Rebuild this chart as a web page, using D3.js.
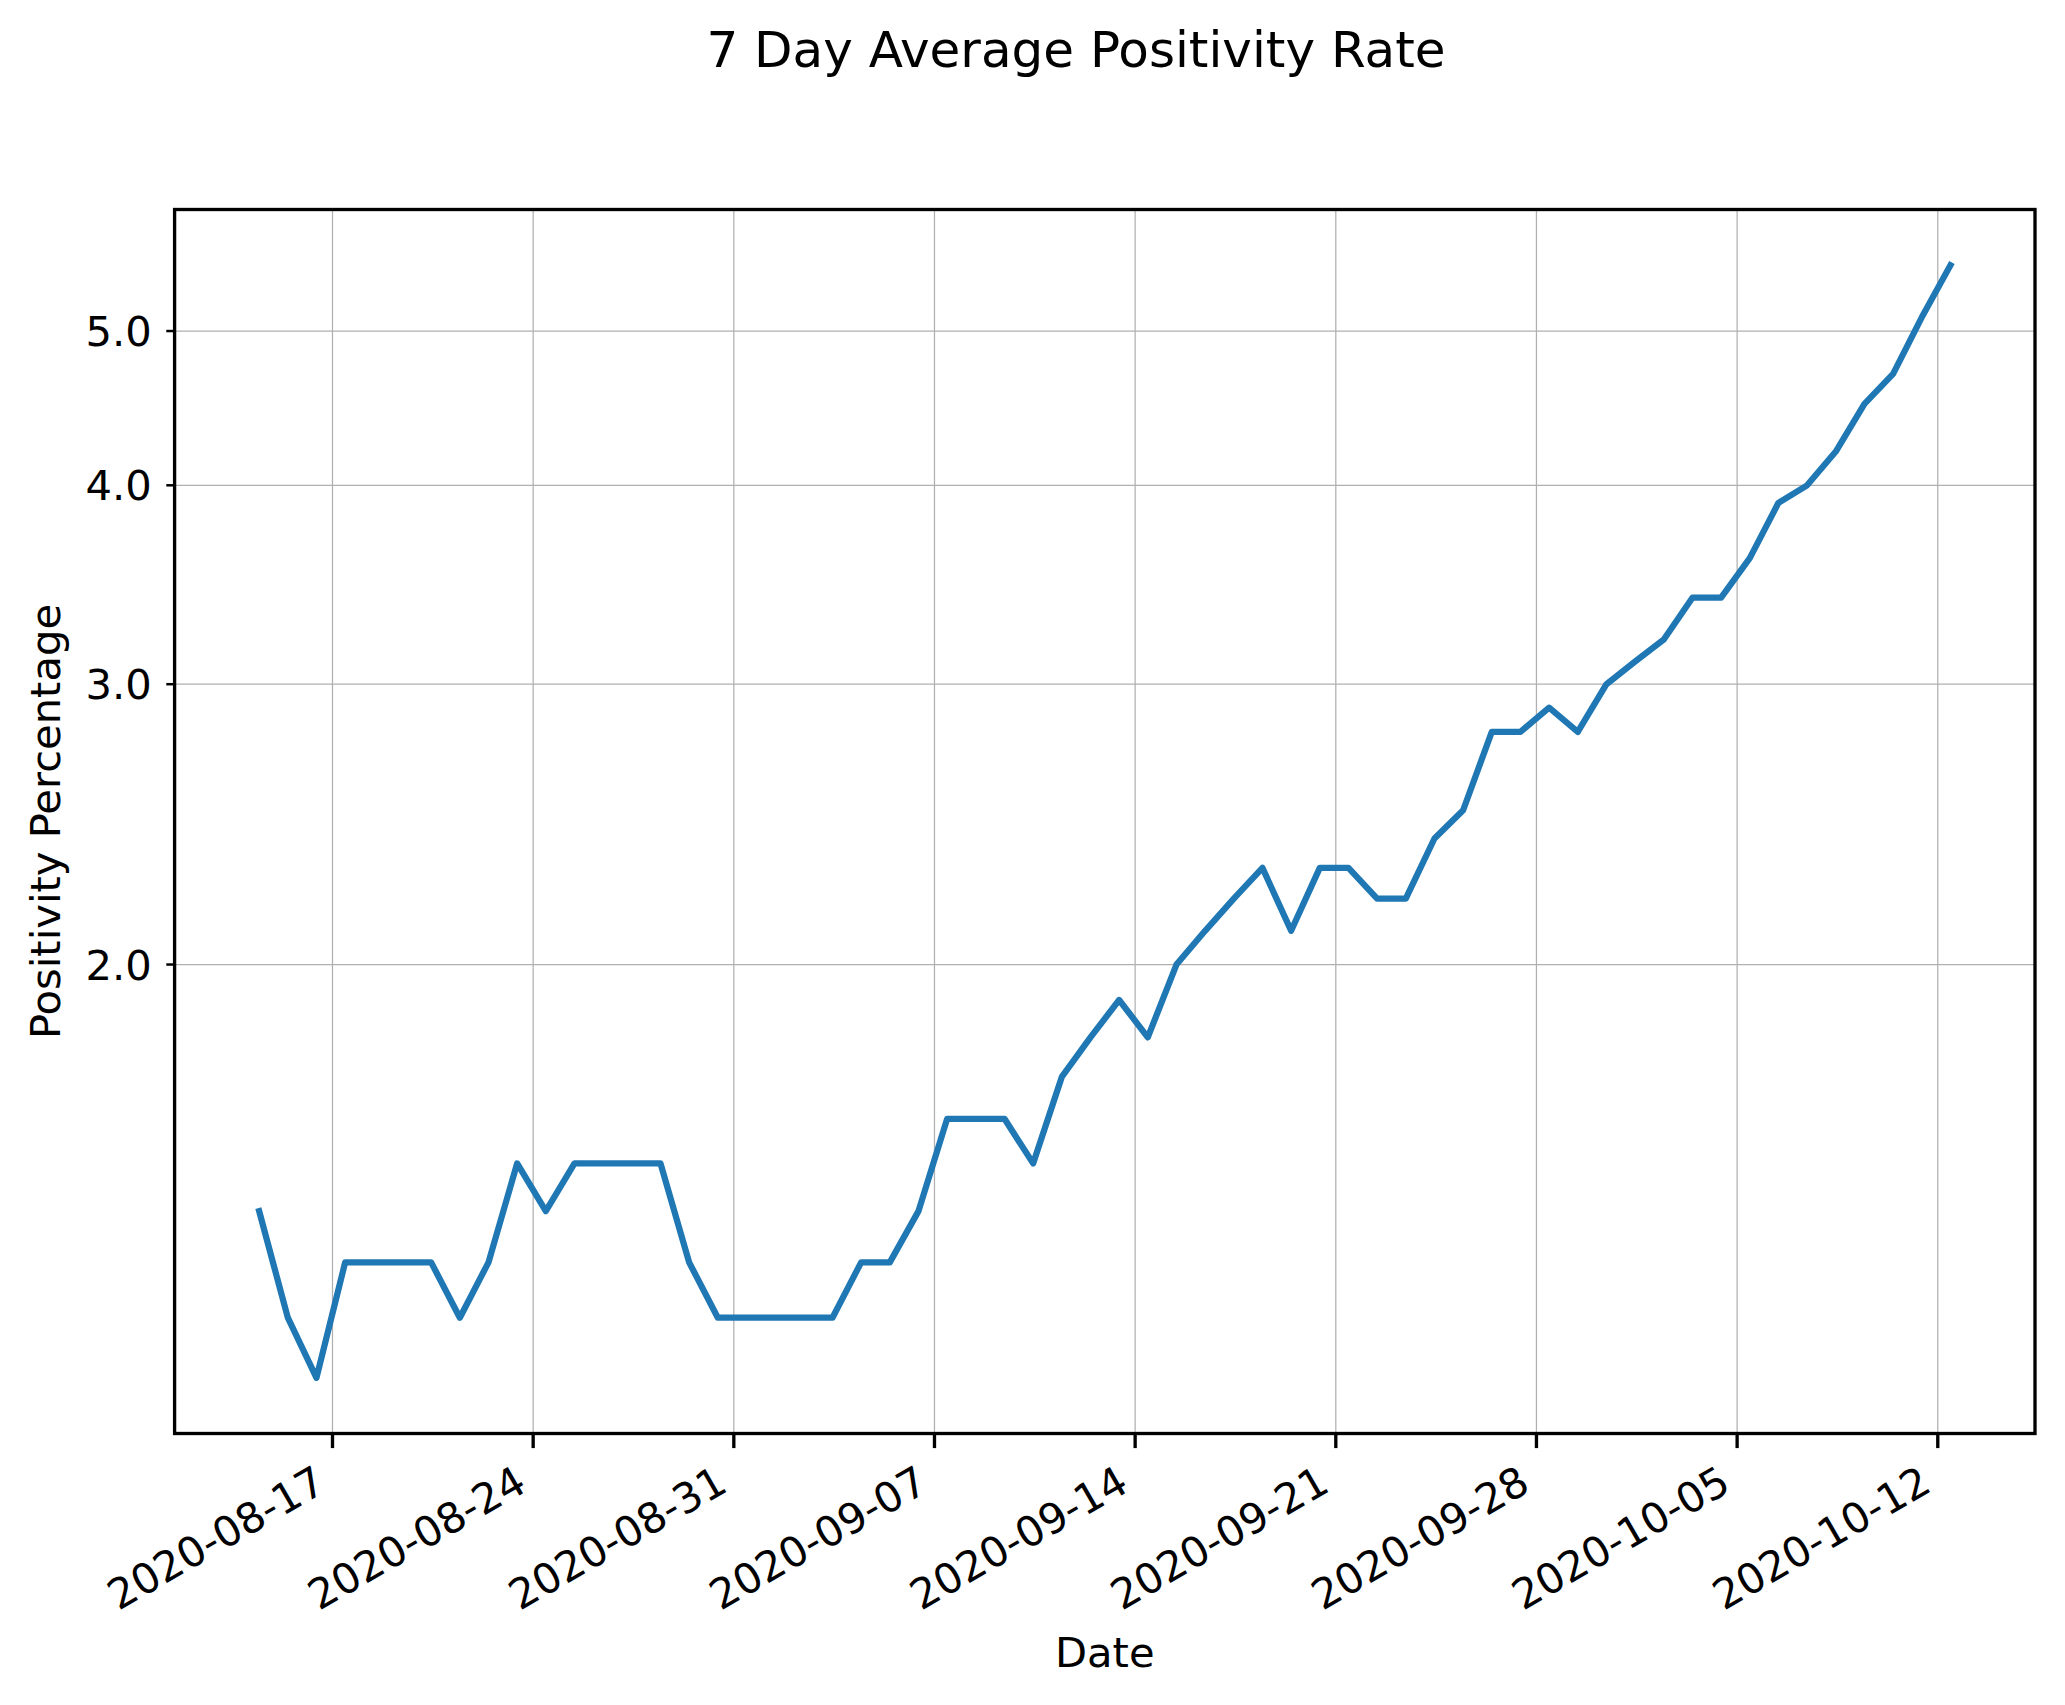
<!DOCTYPE html>
<meta charset="utf-8">
<style>
  body { margin: 0; background: #fff; }
  svg text { font-family: "DejaVu Sans", sans-serif; fill: #000; }
  .grid line { stroke: #b0b0b0; stroke-width: 1.25; }
</style>
<body>
<script src="https://d3js.org/d3.v7.min.js"></script>
<script>

// data (daily 7 day average, %)
var dates = [
  "2020-08-14", "2020-08-15", "2020-08-16", "2020-08-17", "2020-08-18", "2020-08-19", "2020-08-20",
  "2020-08-21", "2020-08-22", "2020-08-23", "2020-08-24", "2020-08-25", "2020-08-26", "2020-08-27",
  "2020-08-28", "2020-08-29", "2020-08-30", "2020-08-31", "2020-09-01", "2020-09-02", "2020-09-03",
  "2020-09-04", "2020-09-05", "2020-09-06", "2020-09-07", "2020-09-08", "2020-09-09", "2020-09-10",
  "2020-09-11", "2020-09-12", "2020-09-13", "2020-09-14", "2020-09-15", "2020-09-16", "2020-09-17",
  "2020-09-18", "2020-09-19", "2020-09-20", "2020-09-21", "2020-09-22", "2020-09-23", "2020-09-24",
  "2020-09-25", "2020-09-26", "2020-09-27", "2020-09-28", "2020-09-29", "2020-09-30", "2020-10-01",
  "2020-10-02", "2020-10-03", "2020-10-04", "2020-10-05", "2020-10-06", "2020-10-07", "2020-10-08",
  "2020-10-09", "2020-10-10", "2020-10-11", "2020-10-12"
]

var positivity = [
  1.4, 1.2, 1.1, 1.3, 1.3, 1.3, 1.3, 1.2, 1.3, 1.5,
  1.4, 1.5, 1.5, 1.5, 1.5, 1.3, 1.2, 1.2, 1.2, 1.2,
  1.2, 1.3, 1.3, 1.4, 1.6, 1.6, 1.6, 1.5, 1.7, 1.8,
  1.9, 1.8, 2.0, 2.1, 2.2, 2.3, 2.1, 2.3, 2.3, 2.2,
  2.2, 2.4, 2.5, 2.8, 2.8, 2.9, 2.8, 3.0, 3.1, 3.2,
  3.4, 3.4, 3.6, 3.9, 4.0, 4.2, 4.5, 4.7, 5.1, 5.5
]

var xTickLabels = ["2020-08-17", "2020-08-24", "2020-08-31", "2020-09-07", "2020-09-14",
  "2020-09-21", "2020-09-28", "2020-10-05", "2020-10-12"]
var yTickValues = [2, 3, 4, 5]

var title = "7 Day Average Positivity Rate"
var xLabel = "Date"
var yLabel = "Positivity Percentage"

var width = 2065
var height = 1705
var margin = { top: 209.5, right: 30, bottom: 271.5, left: 174.6 }
var plotW = width - margin.left - margin.right
var plotH = height - margin.top - margin.bottom

var fs = 41.67      // 10pt at 300 dpi
var majorLen = 14.6, minorLen = 8.3, pad = 14.5
var spineW = 3.33

var parse = d3.utcParse("%Y-%m-%d")
// points sit a little past midnight in the original
var shiftMs = 10.6 * 3600 * 1000

var data = dates.map(function (d, i) {
  return { date: new Date(parse(d).getTime() + shiftMs), value: positivity[i] }
})

// matplotlib style 5% margins
var xExt = d3.extent(data, function (d) { return d.date.getTime() })
var xPad = (xExt[1] - xExt[0]) * 0.05
var x = d3.scaleUtc()
  .domain([new Date(xExt[0] - xPad), new Date(xExt[1] + xPad)])
  .range([0, plotW])

var yExt = d3.extent(data, function (d) { return Math.log10(d.value) })
var yPad = (yExt[1] - yExt[0]) * 0.05
var y = d3.scaleLog()
  .domain([Math.pow(10, yExt[0] - yPad), Math.pow(10, yExt[1] + yPad)])
  .range([plotH, 0])

var svg = d3.select("body").append("svg")
  .attr("width", width)
  .attr("height", height)

svg.append("rect").attr("width", width).attr("height", height).attr("fill", "#fff")

var g = svg.append("g")
  .attr("transform", "translate(" + margin.left + "," + margin.top + ")")

var xTicks = xTickLabels.map(function (d) { return parse(d) })

// grid
var grid = g.append("g").attr("class", "grid")
grid.selectAll(".gx").data(xTicks).enter().append("line")
  .attr("x1", function (d) { return x(d) }).attr("x2", function (d) { return x(d) })
  .attr("y1", 0).attr("y2", plotH)
grid.selectAll(".gy").data(yTickValues).enter().append("line")
  .attr("x1", 0).attr("x2", plotW)
  .attr("y1", function (d) { return y(d) }).attr("y2", function (d) { return y(d) })

// the line
g.append("clipPath").attr("id", "clip")
  .append("rect").attr("width", plotW).attr("height", plotH)

var line = d3.line()
  .x(function (d) { return x(d.date) })
  .y(function (d) { return y(d.value) })

g.append("path")
  .datum(data)
  .attr("clip-path", "url(#clip)")
  .attr("d", line)
  .attr("fill", "none")
  .attr("stroke", "#1f77b4")
  .attr("stroke-width", 6.25)
  .attr("stroke-linejoin", "round")
  .attr("stroke-linecap", "square")

// spines
g.append("rect")
  .attr("width", plotW).attr("height", plotH)
  .attr("fill", "none").attr("stroke", "#000").attr("stroke-width", spineW)

// x ticks + rotated labels (30 deg, right aligned like autofmt_xdate)
var asc = 0.76 * fs, desc = 0.21 * fs
var labelTop = plotH + majorLen + pad
var xt = g.append("g")
xt.selectAll("line").data(xTicks).enter().append("line")
  .attr("x1", function (d) { return x(d) }).attr("x2", function (d) { return x(d) })
  .attr("y1", plotH).attr("y2", plotH + majorLen)
  .attr("stroke", "#000").attr("stroke-width", spineW)
xt.selectAll("text").data(xTicks).enter().append("text")
  .attr("text-anchor", "end")
  .attr("font-size", fs)
  .attr("transform", function (d) {
    return "translate(" + (x(d) - 0.5 * desc) + "," + (labelTop + 0.866 * asc) + ") rotate(-30)"
  })
  .text(function (d) { return d3.utcFormat("%Y-%m-%d")(d) })

// y ticks (minor ticks of the log axis)
var yt = g.append("g")
yt.selectAll("line").data(yTickValues).enter().append("line")
  .attr("x1", -minorLen).attr("x2", 0)
  .attr("y1", function (d) { return y(d) }).attr("y2", function (d) { return y(d) })
  .attr("stroke", "#000").attr("stroke-width", 2.5)
yt.selectAll("text").data(yTickValues).enter().append("text")
  .attr("x", -minorLen - pad)
  .attr("y", function (d) { return y(d) })
  .attr("dy", "0.36em")
  .attr("text-anchor", "end")
  .attr("font-size", fs)
  .text(d3.format(".1f"))

// labels
svg.append("text")
  .attr("x", margin.left + plotW / 2)
  .attr("y", 1667)
  .attr("text-anchor", "middle")
  .attr("font-size", fs)
  .text(xLabel)

svg.append("text")
  .attr("transform", "translate(60," + (margin.top + plotH / 2) + ") rotate(-90)")
  .attr("text-anchor", "middle")
  .attr("font-size", fs)
  .text(yLabel)

svg.append("text")
  .attr("x", 1076)
  .attr("y", 67)
  .attr("text-anchor", "middle")
  .attr("font-size", 50)
  .text(title)

</script>
</body>
